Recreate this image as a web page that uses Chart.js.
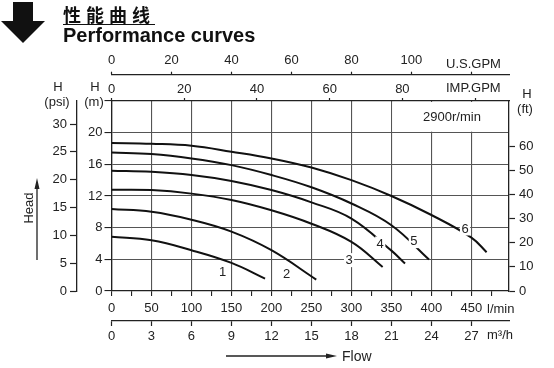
<!DOCTYPE html>
<html>
<head>
<meta charset="utf-8">
<script src="https://cdn.jsdelivr.net/npm/chart.js@4"></script>
<style>
  html, body { margin: 0; padding: 0; background: #fff; }
  #page { position: relative; width: 554px; height: 368px; overflow: hidden; }
  #box { position: absolute; left: 0; top: 0; width: 554px; height: 368px; }
  .shaft { position: absolute; left: 13px; top: 2px; width: 20px; height: 20px; background: #111; }
  .head { position: absolute; left: 1px; top: 21px; width: 0; height: 0;
          border-left: 22px solid transparent; border-right: 22px solid transparent; border-top: 22px solid #111; }
  .title-cn { position: absolute; left: 63px; top: 5px; font: bold 18px/18px "Noto Sans CJK SC"; letter-spacing: 5px;
              text-decoration: underline; text-underline-offset: 2px; color: #111; white-space: nowrap; }
  .title-en { position: absolute; left: 63px; top: 25px; font: bold 20px/20px "Liberation Sans", Arial, sans-serif;
              color: #111; white-space: nowrap; }
</style>
</head>
<body>
<div id="page">
  <div id="box"><canvas id="chart"></canvas></div>
  <div class="shaft"></div><div class="head"></div>
  <div class="title-cn">性能曲线</div>
  <div class="title-en">Performance curves</div>
</div>
<script>
// head (m) against flow (l/min) for the six pump sizes
const flow1 = [0, 50, 100, 150, 192];
const head1 = [6.85, 6.4, 5.15, 3.55, 1.57];
const flow2 = [0, 50, 100, 150, 200, 256];
const head2 = [10.35, 10.0, 9.0, 7.5, 5.15, 1.44];
const flow3 = [0, 50, 100, 150, 200, 250, 300, 339];
const head3 = [12.8, 12.75, 12.3, 11.5, 10.2, 8.5, 6.2, 3.04];
const flow4 = [0, 50, 100, 150, 200, 250, 300, 350, 367];
const head4 = [15.2, 15.05, 14.65, 13.9, 12.75, 11.2, 9.15, 5.1, 3.47];
const flow5 = [0, 50, 100, 150, 200, 250, 300, 350, 397];
const head5 = [17.5, 17.3, 16.75, 15.9, 14.65, 13.1, 11.05, 8.3, 3.97];
const flow6 = [0, 50, 100, 150, 200, 250, 300, 350, 400, 450, 469];
const head6 = [18.7, 18.6, 18.35, 17.6, 16.75, 15.6, 14.0, 12.0, 9.6, 6.75, 4.9];

// where the curve numbers sit (l/min, m)
const curveNames = ['1', '2', '3', '4', '5', '6'];
const curveLabelFlow = [139, 219, 297, 336, 378, 442];
const curveLabelHead = [2.4, 2.1, 3.9, 6.0, 6.3, 7.9];

// axis ticks
const lminTicks = [0, 25, 50, 75, 100, 125, 150, 175, 200, 225, 250, 275, 300, 325, 350, 375, 400, 425, 450, 475];
const m3hTicks = [0, 3, 6, 9, 12, 15, 18, 21, 24, 27];
const usGpmTicks = [0, 20, 40, 60, 80, 100, 120];
const usGpmLabels = ['0', '20', '40', '60', '80', '100', ''];
const impGpmTicks = [0, 20, 40, 60, 80, 100];
const impGpmLabels = ['0', '20', '40', '60', '80', ''];
const mTicks = [0, 4, 8, 12, 16, 20, 24];
const mLabels = ['0', '4', '8', '12', '16', '20', ''];
const psiTicks = [0, 5, 10, 15, 20, 25, 30];
const ftTicks = [0, 10, 20, 30, 40, 50, 60];

const lminMax = 497;
const mMax = 24;

const ink = '#222';
const gridColor = '#555';
const font = { family: '"Liberation Sans", Arial, sans-serif', size: 13 };

function setTicks(values) {
    return scale => { scale.ticks = values.map(v => ({ value: v })); };
}

function fixSize(prop, size) {
    return scale => { scale[prop] = size; };
}

function curve(flow, head) {
    return {
        data: flow.map((f, i) => ({ x: f, y: head[i] })),
        borderColor: '#111',
        borderWidth: 2,
        pointRadius: 0,
        fill: false,
        tension: 0.4
    };
}

// side scale shared bits
function sideScale(axis, position, max, ticks, tickLength, padding, size, labels) {
    return {
        type: 'linear',
        axis: axis,
        position: position,
        min: 0,
        max: max,
        weight: 1,
        afterBuildTicks: setTicks(ticks),
        afterFit: fixSize(axis === 'x' ? 'height' : 'width', size),
        border: { display: true, color: ink, width: 1.3 },
        grid: { drawOnChartArea: false, tickLength: tickLength, tickColor: ink, tickWidth: 1.2 },
        ticks: {
            color: ink,
            font: font,
            padding: padding,
            autoSkip: false,
            maxRotation: 0,
            callback: labels ? (v, i) => labels[i] : v => v
        }
    };
}

const notes = {
    id: 'notes',
    beforeDatasetsDraw(chart) {
        const { ctx, chartArea, scales } = chart;
        // the speed note box has no grid lines
        const left = scales.x.getPixelForValue(350) + 1;
        const bottom = scales.y.getPixelForValue(20) - 1;
        ctx.save();
        ctx.fillStyle = '#fff';
        ctx.fillRect(left, chartArea.top + 1, chartArea.right - 1 - left, bottom - chartArea.top - 1);
        ctx.fillStyle = ink;
        ctx.font = '13px "Liberation Sans", Arial, sans-serif';
        ctx.textAlign = 'center';
        ctx.textBaseline = 'middle';
        ctx.fillText('2900r/min', 452, 117);
        ctx.restore();
    },
    afterDatasetsDraw(chart) {
        const { ctx, scales } = chart;
        ctx.save();
        ctx.font = '13px "Liberation Sans", Arial, sans-serif';
        ctx.textAlign = 'center';
        ctx.textBaseline = 'middle';
        curveNames.forEach((name, i) => {
            const px = scales.x.getPixelForValue(curveLabelFlow[i]);
            const py = scales.y.getPixelForValue(curveLabelHead[i]);
            const w = ctx.measureText(name).width;
            ctx.fillStyle = '#fff';
            ctx.fillRect(px - w / 2 - 1.5, py - 7, w + 3, 14);
            ctx.fillStyle = ink;
            ctx.fillText(name, px, py + 0.5);
        });
        ctx.restore();
    },
    afterDraw(chart) {
        const { ctx } = chart;
        ctx.save();
        ctx.fillStyle = ink;
        ctx.strokeStyle = ink;
        ctx.font = '13px "Liberation Sans", Arial, sans-serif';
        ctx.textBaseline = 'middle';
        ctx.textAlign = 'center';
        ctx.fillText('H', 58, 87);
        ctx.fillText('(psi)', 57, 102);
        ctx.fillText('H', 95, 87);
        ctx.fillText('(m)', 94, 102);
        ctx.fillText('H', 527, 94);
        ctx.fillText('(ft)', 525, 109);
        ctx.textAlign = 'left';
        ctx.fillText('U.S.GPM', 446, 64);
        ctx.fillText('IMP.GPM', 446, 88);
        ctx.fillText('l/min', 487, 309);
        ctx.fillText('m\u00b3/h', 487, 335);
        ctx.font = '14px "Liberation Sans", Arial, sans-serif';
        ctx.fillText('Flow', 342, 357);

        // Head, rotated
        ctx.save();
        ctx.translate(29, 208);
        ctx.rotate(-Math.PI / 2);
        ctx.textAlign = 'center';
        ctx.font = '13px "Liberation Sans", Arial, sans-serif';
        ctx.fillText('Head', 0, 0);
        ctx.restore();

        // arrows
        ctx.lineWidth = 1.3;
        ctx.beginPath();
        ctx.moveTo(37, 260); ctx.lineTo(37, 186);
        ctx.moveTo(226, 356); ctx.lineTo(327, 356);
        ctx.stroke();
        ctx.beginPath();
        ctx.moveTo(37, 178); ctx.lineTo(34.5, 189); ctx.lineTo(39.5, 189); ctx.closePath();
        ctx.moveTo(337, 356); ctx.lineTo(326, 353.5); ctx.lineTo(326, 358.5); ctx.closePath();
        ctx.fill();
        ctx.restore();
    }
};

new Chart(document.getElementById('chart'), {
    type: 'line',
    data: {
        datasets: [
            curve(flow1, head1), curve(flow2, head2), curve(flow3, head3),
            curve(flow4, head4), curve(flow5, head5), curve(flow6, head6)
        ]
    },
    options: {
        responsive: true,
        maintainAspectRatio: false,
        animation: false,
        events: [],
        layout: { padding: { left: 40, right: 19, top: 52, bottom: 23 } },
        plugins: { legend: { display: false }, tooltip: { enabled: false } },
        scales: {
            x: {
                type: 'linear',
                position: 'bottom',
                min: 0,
                max: lminMax,
                weight: 0,
                afterBuildTicks: setTicks(lminTicks),
                afterFit: fixSize('height', 30),
                border: { display: true, color: ink, width: 1.3 },
                grid: {
                    color: c => (c.tick && c.tick.value % 50 === 0) ? gridColor : 'rgba(0,0,0,0)',
                    tickColor: ink,
                    tickLength: 5,
                    lineWidth: 1.1
                },
                ticks: {
                    color: ink, font: font, padding: 5, autoSkip: false, maxRotation: 0,
                    callback: v => (v % 50 === 0 ? v : '')
                }
            },
            y: {
                type: 'linear',
                position: 'left',
                min: 0,
                max: mMax,
                weight: 0,
                afterBuildTicks: setTicks(mTicks),
                afterFit: fixSize('width', 34.5),
                border: { display: true, color: ink, width: 1.3 },
                grid: { color: gridColor, tickColor: ink, tickLength: 7, lineWidth: 1.1 },
                ticks: { color: ink, font: font, padding: 2, callback: (v, i) => mLabels[i] }
            },
            m3h: sideScale('x', 'bottom', lminMax * 0.06, m3hTicks, 5, 3, 24),
            imp: Object.assign(sideScale('x', 'top', lminMax / 4.546, impGpmTicks, 3, 1, 26.3, impGpmLabels), { weight: 0 }),
            us: sideScale('x', 'top', lminMax / 3.75, usGpmTicks, 3, 3, 22.7, usGpmLabels),
            psi: sideScale('y', 'left', mMax / 0.7031, psiTicks, 7, 3, 37),
            ft: Object.assign(sideScale('y', 'right', mMax / 0.3048, ftTicks, 6, 4, 26), { weight: 0 })
        }
    },
    plugins: [notes]
});
</script>
</body>
</html>
